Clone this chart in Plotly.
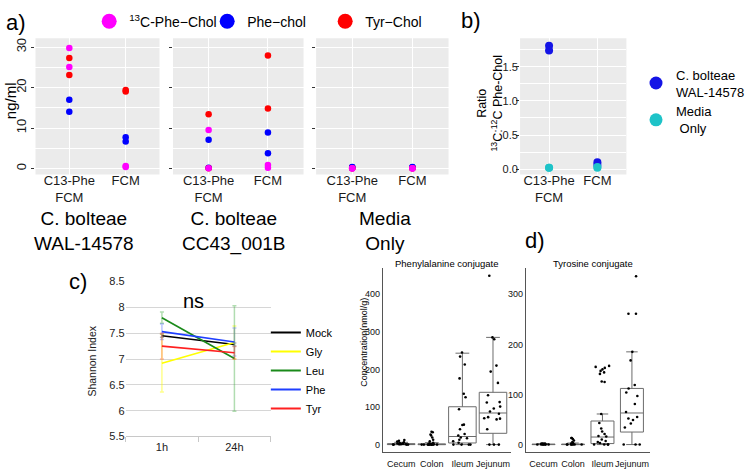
import plotly.graph_objects as go

W, H = 750, 473

# ---------------- a) culture supernatants ----------------
a_conditions = ['C13-Phe<br>FCM', 'C13-Phe<br>FCM', 'FCM', 'FCM']
a_categories = ['C13-Phe<br>FCM', 'FCM']
a_strains = ['C. bolteae<br>WAL-14578', 'C. bolteae<br>CC43_001B', 'Media<br>Only']

wal_13c_phe = [29.8, 25.1, 0.6, 0.4]
wal_phe = [17.0, 14.0, 7.7, 6.7]
wal_tyr = [27.3, 23.1, 19.4, 19.0]

cc43_13c_phe = [9.5, 0.1, 0.9, 0.2]
cc43_phe = [7.1, 0.2, 8.9, 3.8]
cc43_tyr = [13.4, 0.1, 27.9, 14.8]

media_13c_phe = [0.0, 0.1, 0.0, 0.1]
media_phe = [0.3, 0.4, 0.3, 0.4]
media_tyr = [0.1, 0.1, 0.1, 0.1]

# ---------------- b) isotope ratio ----------------
b_wal = [1.81, 1.74, 0.10, 0.06]
b_media = [0.02, 0.02, 0.02, 0.03]

# ---------------- c) Shannon index ----------------
c_times = ['1h', '24h']
c_series = ['Mock', 'Gly', 'Leu', 'Phe', 'Tyr']
c_means = {
    'Mock': [7.45, 7.28],
    'Gly': [6.92, 7.32],
    'Leu': [7.80, 7.01],
    'Phe': [7.53, 7.33],
    'Tyr': [7.25, 7.12],
}
c_errors = {
    'Mock': [0.03, 0.03],
    'Gly': [0.56, 0.32],
    'Leu': [0.11, 1.02],
    'Phe': [0.15, 0.27],
    'Tyr': [0.25, 0.12],
}

# ---------------- d) tissue concentrations ----------------
d_sites = ['Cecum', 'Colon', 'Ileum', 'Jejunum']

phe_cecum = [0, 0, 0, 0, 1, 1, 1, 2, 2, 3, 3, 4, 6, 8, 10, 12]
phe_colon = [0, 0, 0, 0, 0, 0, 0, 0, 0, 0, 1, 1, 2, 3, 5, 9, 13, 19, 24, 27, 33, 34]
phe_ileum = [245, 234, 213, 176, 135, 126, 94, 53, 52, 41, 28, 24, 19, 17, 13, 9, 5, 0, 0, 0, 0]
phe_jejunum = [449, 285, 280, 210, 194, 164, 131, 113, 112, 101, 96, 88, 82, 73, 70, 69, 67, 41, 0, 0, 0]
phe_q1 = [0, 0, 4.3, 30]
phe_median = [0.5, 0, 21.5, 84]
phe_q3 = [2.5, 2, 100.6, 139]
phe_low = [0, 0, 0, 0]
phe_high = [6, 5, 243, 285]

tyr_cecum = [0, 0, 0, 0, 0, 0, 0, 1, 1, 1, 1, 2, 2, 2]
tyr_colon = [0, 0, 0, 0, 0, 0, 0, 1, 1, 2, 3, 5, 8, 11, 13, 13]
tyr_ileum = [157, 155, 153, 150, 147, 144, 141, 126, 125, 61, 43, 32, 26, 21, 17, 16, 10, 7, 5, 3, 0, 0, 0, 0]
tyr_jejunum = [336, 261, 261, 185, 168, 119, 112, 104, 97, 81, 65, 55, 52, 49, 42, 34, 0, 0, 0]
tyr_q1 = [0, 0, 2, 25]
tyr_median = [0, 0, 15, 63]
tyr_q3 = [1, 1, 47, 112]
tyr_low = [0, 0, 0, 0]
tyr_high = [2, 3, 61, 185]

FONT = 'Liberation Sans, Arial, sans-serif'
MAGENTA, BLUE, RED = '#ff00ff', '#0000ff', '#ff0000'
B_BLUE, B_CYAN = '#1414e6', '#1ec3c8'
C_COLORS = {'Mock': '#000000', 'Gly': '#ffff00', 'Leu': '#1a8a1a', 'Phe': '#1f3fff', 'Tyr': '#ff2020'}
C_ERR = {'Mock': 'rgba(0,0,0,0.3)', 'Gly': 'rgba(255,255,0,0.45)', 'Leu': 'rgba(60,170,60,0.4)',
         'Phe': 'rgba(60,90,255,0.35)', 'Tyr': 'rgba(255,60,60,0.35)'}


def xd(x0, x1):
    return [x0 / W, x1 / W]


def yd(y0, y1):
    return [1 - y1 / H, 1 - y0 / H]


def note(fig, text, x, y, size, angle=0, xanchor='center', color='#000'):
    fig.add_annotation(text=text, x=x / W, y=1 - y / H, xref='paper', yref='paper',
                       showarrow=False, xanchor=xanchor, yanchor='middle', textangle=angle,
                       font=dict(size=size, color=color, family=FONT))


def gray_panel(fig, ax):
    fig.add_shape(type='rect', xref=f'x{ax} domain', yref=f'y{ax} domain', x0=0, x1=1, y0=0, y1=1,
                  fillcolor='#ebebeb', line_width=0, layer='below')


fig = go.Figure()

# ---- panel a ----
a_facets = [
    ('', (wal_13c_phe, wal_phe, wal_tyr), (36.7, 165)),
    ('2', (cc43_13c_phe, cc43_phe, cc43_tyr), (179, 314)),
    ('3', (media_13c_phe, media_phe, media_tyr), (327, 464)),
]
for ax, (v13, vphe, vtyr), (x0, x1) in a_facets:
    for vals, col in ((vphe, BLUE), (vtyr, RED), (v13, MAGENTA)):
        fig.add_trace(go.Scatter(x=a_conditions, y=vals, mode='markers', showlegend=False,
                                 marker=dict(color=col, size=6.5), xaxis=f'x{ax}', yaxis=f'y{ax}'))
    fig.update_layout({
        f'xaxis{ax}': dict(domain=xd(x0, x1), anchor=f'y{ax}', type='category', categoryarray=a_categories,
                           range=[-0.6, 1.6], showgrid=True, gridcolor='white', gridwidth=1.2,
                           ticks='', ticklabelstandoff=-4,
                           tickfont=dict(size=13, color='#1a1a1a', family=FONT), zeroline=False),
        f'yaxis{ax}': dict(domain=yd(33, 173), anchor=f'x{ax}', range=[-1.5, 32.2], tick0=0, dtick=10,
                           gridcolor='white', gridwidth=1.2,
                           minor=dict(dtick=5, showgrid=True, gridcolor='white', gridwidth=0.5),
                           ticks='outside', ticklen=3, tickcolor='#333', showticklabels=(ax == ''),
                           tickangle=-90,
                           tickfont=dict(size=13, color='#1a1a1a', family=FONT), zeroline=False),
    })
    gray_panel(fig, ax)

for name, col in (('<sup>13</sup>C-Phe\u2212Chol', MAGENTA), ('Phe\u2212chol', BLUE), ('Tyr\u2212Chol', RED)):
    fig.add_trace(go.Scatter(x=[None], y=[None], mode='markers', name=name, legend='legend',
                             marker=dict(color=col, size=15)))

for label, cx in zip(a_strains, (86.7, 241.7, 398)):
    note(fig, label, cx, 231, 19)
note(fig, 'ng/ml', 11, 97, 15, angle=-90)
note(fig, 'a)', 4, 17, 22, xanchor='left')

# ---- panel b ----
fig.add_trace(go.Scatter(x=a_conditions, y=b_wal, mode='markers', showlegend=False,
                         marker=dict(color=B_BLUE, size=8), xaxis='x4', yaxis='y4'))
fig.add_trace(go.Scatter(x=a_conditions, y=b_media, mode='markers', showlegend=False,
                         marker=dict(color=B_CYAN, size=8), xaxis='x4', yaxis='y4'))
fig.add_trace(go.Scatter(x=[None], y=[None], mode='markers', name='C. bolteae<br>WAL-14578',
                         legend='legend2', marker=dict(color=B_BLUE, size=13), xaxis='x4', yaxis='y4'))
fig.add_trace(go.Scatter(x=[None], y=[None], mode='markers', name='Media<br> Only',
                         legend='legend2', marker=dict(color=B_CYAN, size=13), xaxis='x4', yaxis='y4'))
fig.update_layout(
    xaxis4=dict(domain=xd(538, 648), anchor='y4', type='category', categoryarray=a_categories,
                range=[-0.6, 1.6], showgrid=True, gridcolor='white', gridwidth=1.2,
                ticks='', ticklabelstandoff=-4,
                tickfont=dict(size=13, color='#1a1a1a', family=FONT), zeroline=False),
    yaxis4=dict(domain=yd(33, 173), anchor='x4', range=[-0.08, 1.92], tick0=0, dtick=0.5,
                tickformat='.1f', gridcolor='white', gridwidth=1.2,
                minor=dict(dtick=0.25, showgrid=True, gridcolor='white', gridwidth=0.5),
                ticks='outside', ticklen=3, tickcolor='#333', ticklabelstandoff=-4,
                tickfont=dict(size=11, color='#1a1a1a', family=FONT), zeroline=False),
)
gray_panel(fig, '4')
note(fig, 'Ratio<br><sup>13</sup>C:<sup>12</sup>C Phe-Chol', 507, 100, 12.5, angle=-90)
note(fig, 'b)', 487, 15, 22)

# ---- panel c ----
for s in c_series:
    fig.add_trace(go.Scatter(x=c_times, y=c_means[s], mode='lines', showlegend=False,
                             line=dict(color=C_COLORS[s], width=1.6),
                             error_y=dict(type='data', array=c_errors[s], color=C_ERR[s],
                                          thickness=1.5, width=2),
                             xaxis='x5', yaxis='y5'))
for s in c_series:
    fig.add_trace(go.Scatter(x=[None], y=[None], mode='lines', name=s, legend='legend3',
                             line=dict(color=C_COLORS[s], width=2), xaxis='x5', yaxis='y5'))
fig.update_layout(
    xaxis5=dict(domain=xd(130, 280), anchor='y5', type='category', range=[-0.5, 1.5],
                showline=True, linecolor='#c8c8c8', ticks='outside', tickson='boundaries',
                ticklen=5, tickcolor='#c8c8c8', showgrid=False, zeroline=False,
                tickfont=dict(size=11, color='#222', family=FONT)),
    yaxis5=dict(domain=yd(282.7, 441.7), anchor='x5', range=[5.5, 8.5], dtick=0.5,
                gridcolor='#d6d6d6', zeroline=False, ticks='',
                tickfont=dict(size=11, color='#222', family=FONT)),
)
note(fig, 'Shannon Index', 95, 364, 10.5, angle=-90, color='#222')
note(fig, 'ns', 200, 303, 20)
note(fig, 'c)', 69, 283, 22, xanchor='left')

# ---- panel d ----
d_panels = [
    ('6', (phe_cecum, phe_colon, phe_ileum, phe_jejunum),
     (phe_q1, phe_median, phe_q3, phe_low, phe_high), (396, 529), [-20.7, 469], 100, 0.9,
     'Phenylalanine conjugate', 462),
    ('7', (tyr_cecum, tyr_colon, tyr_ileum, tyr_jejunum),
     (tyr_q1, tyr_median, tyr_q3, tyr_low, tyr_high), (544, 672), [-15.6, 352], 100, 0.78,
     'Tyrosine conjugate', 613),
]
for ax, pts, (q1, med, q3, lo, hi), (x0, x1), yr, dt, bw, title, tx in d_panels:
    fig.add_trace(go.Box(x=d_sites, q1=q1, median=med, q3=q3, lowerfence=lo, upperfence=hi,
                         boxpoints=False, fillcolor='white', line=dict(color='#6b6b6b', width=1),
                         width=bw, showlegend=False, xaxis=f'x{ax}', yaxis=f'y{ax}'))
    xs, ys = [], []
    for site, vals in zip(d_sites, pts):
        xs += [site] * len(vals)
        ys += vals
    fig.add_trace(go.Box(x=xs, y=ys, boxpoints='all', jitter=0.85, pointpos=0,
                         fillcolor='rgba(0,0,0,0)', line=dict(color='rgba(0,0,0,0)', width=0),
                         marker=dict(color='black', size=2.6), width=bw, showlegend=False,
                         xaxis=f'x{ax}', yaxis=f'y{ax}'))
    fig.update_layout({
        f'xaxis{ax}': dict(domain=xd(x0, x1), anchor=f'y{ax}', type='category', categoryarray=d_sites,
                           range=[-0.6, 3.6], showline=True, linecolor='#555', showgrid=False,
                           zeroline=False, ticks='', tickangle=0, ticklabelstandoff=3,
                           tickfont=dict(size=9, color='#111', family=FONT)),
        f'yaxis{ax}': dict(domain=yd(269, 458), anchor=f'x{ax}', range=yr, dtick=dt, showline=True,
                           linecolor='#555', showgrid=False, zeroline=False, ticks='',
                           tickfont=dict(size=9, color='#111', family=FONT)),
    })
    note(fig, title, tx, 264, 9.5)
note(fig, 'Concentration(nmol/g)', 377, 345, 9, angle=-90)
note(fig, 'd)', 541, 241, 22, xanchor='left')

fig.update_layout(
    width=W, height=H, margin=dict(l=0, r=0, t=0, b=0),
    paper_bgcolor='white', plot_bgcolor='white', boxmode='overlay',
    font=dict(family=FONT, color='#000'),
    legend=dict(orientation='h', x=0.123, y=1 - 16 / H, xanchor='left', yanchor='middle',
                font=dict(size=14, family=FONT), bgcolor='rgba(0,0,0,0)', itemsizing='trace',
                entrywidth=73, tracegroupgap=0),
    legend2=dict(x=658 / W, y=1 - 55 / H, xanchor='left', yanchor='top',
                 font=dict(size=13, family=FONT), bgcolor='rgba(0,0,0,0)', itemsizing='trace'),
    legend3=dict(x=275 / W, y=1 - 320 / H, xanchor='left', yanchor='top',
                 font=dict(size=11, family=FONT), bgcolor='rgba(0,0,0,0)'),
)

# the page's default body margin would shift the figure; drop it
fig.write_html("out.html", config={'displayModeBar': False},
               post_script="document.body.style.margin = '0';")
